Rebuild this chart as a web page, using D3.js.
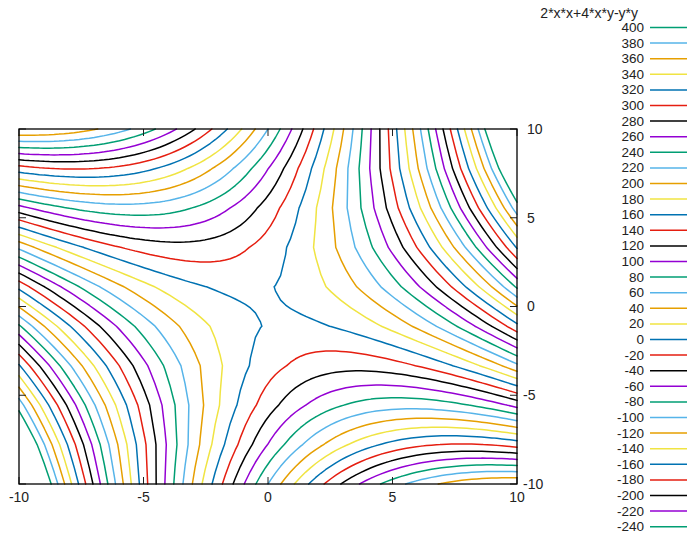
<!DOCTYPE html>
<html>
<head>
<meta charset="utf-8">
<script src="https://cdn.jsdelivr.net/npm/d3@7"></script>
<style>
  html, body { margin: 0; padding: 0; background: #fff; }
  svg { display: block; font-family: "Liberation Sans", Arial, sans-serif; }
</style>
</head>
<body>
<svg id="chart" width="689" height="533"></svg>
<script>
// Surface z = 2*x*x + 4*x*y - y*y sampled on a grid, then contoured
const title = "2*x*x+4*x*y-y*y";
const xDomain = [-10, 10];
const yDomain = [-10, 10];
const xSamples = 100;   // samples along x
const ySamples = 10;    // iso-samples along y
const levels = [400, 380, 360, 340, 320, 300, 280, 260, 240, 220, 200, 180, 160, 140,
  120, 100, 80, 60, 40, 20, 0, -20, -40, -60, -80, -100, -120, -140, -160, -180,
  -200, -220, -240, -260, -280];
const xTicks = [-10, -5, 0, 5, 10];
const yTicks = [10, 5, 0, -5, -10];
const palette = ["#9400d3", "#009e73", "#56b4e9", "#e69f00", "#f0e442", "#0072b2", "#e51e10", "#000000"];

const f = (x, y) => 2 * x * x + 4 * x * y - y * y;

const width = 689, height = 533;
const svg = d3.select("#chart");
const plot = { left: 19, right: 517, top: 129, bottom: 484 };
const x = d3.scaleLinear().domain(xDomain).range([plot.left, plot.right]);
const y = d3.scaleLinear().domain(yDomain).range([plot.bottom, plot.top]);

// grid values
const gx = d3.range(xSamples).map(i => xDomain[0] + (xDomain[1] - xDomain[0]) * i / (xSamples - 1));
const gy = d3.range(ySamples).map(j => yDomain[0] + (yDomain[1] - yDomain[0]) * j / (ySamples - 1));
const grid = gy.map(yy => gx.map(xx => f(xx, yy)));

// marching squares with linear interpolation along cell edges
function contourSegments(level) {
  const segs = [];
  const interp = (p, q) => {
    const t = (level - p.v) / (q.v - p.v);
    return [p.x + t * (q.x - p.x), p.y + t * (q.y - p.y)];
  };
  for (let j = 0; j < ySamples - 1; j++) {
    for (let i = 0; i < xSamples - 1; i++) {
      const c = [
        { x: gx[i], y: gy[j], v: grid[j][i] },
        { x: gx[i + 1], y: gy[j], v: grid[j][i + 1] },
        { x: gx[i + 1], y: gy[j + 1], v: grid[j + 1][i + 1] },
        { x: gx[i], y: gy[j + 1], v: grid[j + 1][i] }
      ];
      const pts = [];
      for (let k = 0; k < 4; k++) {
        const p = c[k], q = c[(k + 1) % 4];
        if ((p.v > level) !== (q.v > level)) pts.push({ edge: k, pt: interp(p, q) });
      }
      if (pts.length === 2) {
        segs.push([pts[0].pt, pts[1].pt]);
      } else if (pts.length === 4) {
        const centre = (c[0].v + c[1].v + c[2].v + c[3].v) / 4;
        const cornerAbove = c[0].v > level;
        if ((centre > level) === cornerAbove) {
          segs.push([pts[0].pt, pts[1].pt], [pts[2].pt, pts[3].pt]);
        } else {
          segs.push([pts[0].pt, pts[3].pt], [pts[1].pt, pts[2].pt]);
        }
      }
    }
  }
  return segs;
}

const line = d3.line().x(d => x(d[0])).y(d => y(d[1]));

const contourG = svg.append("g");
levels.forEach((lv, i) => {
  const segs = contourSegments(lv);
  contourG.append("path")
    .attr("d", segs.map(s => line(s)).join(""))
    .attr("fill", "none")
    .attr("stroke", palette[(i + 1) % palette.length])
    .attr("stroke-width", 1.5)
    .attr("stroke-linecap", "round")
    .attr("stroke-linejoin", "round");
});

// ticks on all four sides, pointing inward
const tickLen = 7;
const tickG = svg.append("g").attr("stroke", "#222").attr("stroke-width", 1);
xTicks.forEach(t => {
  tickG.append("line").attr("x1", x(t)).attr("x2", x(t)).attr("y1", plot.bottom).attr("y2", plot.bottom - tickLen);
  tickG.append("line").attr("x1", x(t)).attr("x2", x(t)).attr("y1", plot.top).attr("y2", plot.top + tickLen);
});
yTicks.forEach(t => {
  tickG.append("line").attr("x1", plot.left).attr("x2", plot.left + tickLen).attr("y1", y(t)).attr("y2", y(t));
  tickG.append("line").attr("x1", plot.right).attr("x2", plot.right - tickLen).attr("y1", y(t)).attr("y2", y(t));
});

// border
svg.append("rect")
  .attr("x", plot.left).attr("y", plot.top)
  .attr("width", plot.right - plot.left).attr("height", plot.bottom - plot.top)
  .attr("fill", "none").attr("stroke", "#000").attr("stroke-width", 1.3);

// tick labels
svg.append("g").selectAll("text").data(xTicks).join("text")
  .attr("x", d => x(d)).attr("y", 502)
  .attr("text-anchor", "middle")
  .attr("font-size", 14).attr("fill", "#222")
  .text(d => d);

svg.append("g").selectAll("text").data(yTicks).join("text")
  .attr("x", d => d < 0 ? 523 : 527).attr("y", d => y(d))
  .attr("dy", "0.35em")
  .attr("text-anchor", "start")
  .attr("font-size", 14).attr("fill", "#222")
  .text(d => d);

// legend: one row per level, running down the right edge
const legend = svg.append("g");
legend.append("text")
  .attr("x", 638).attr("y", 12.7).attr("dy", "0.35em")
  .attr("text-anchor", "end")
  .attr("font-size", 14).attr("fill", "#222")
  .text(title);

const rowStep = 15.6;
levels.forEach((lv, i) => {
  const yy = 27.5 + i * rowStep;
  if (yy > height - 4) return;   // rows past the bottom edge are not visible
  legend.append("text")
    .attr("x", 644).attr("y", yy).attr("dy", "0.33em")
    .attr("text-anchor", "end")
    .attr("font-size", 13.5).attr("fill", "#222")
    .text(lv);
  legend.append("line")
    .attr("x1", 650).attr("x2", 687).attr("y1", yy).attr("y2", yy)
    .attr("stroke", palette[(i + 1) % palette.length])
    .attr("stroke-width", 1.5);
});
</script>
</body>
</html>
